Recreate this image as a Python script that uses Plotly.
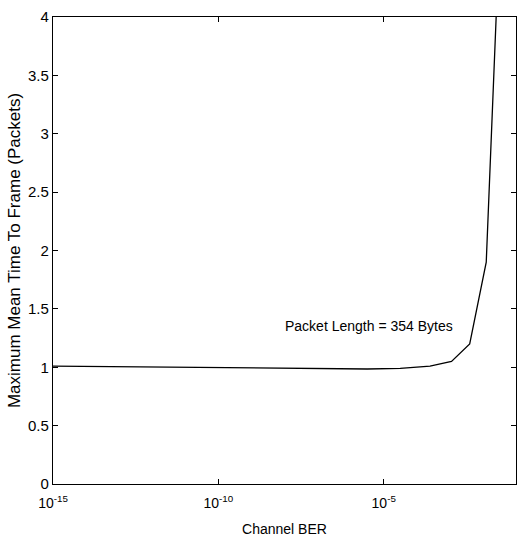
import numpy as np
import plotly.graph_objects as go

# Data (x as log10 of channel BER)
ber_log10 = [-15, -13, -11, -9, -7, -5.5, -4.5, -3.6, -2.95, -2.4, -1.9, -1.6]
mean_time = [1.01, 1.005, 1.0, 0.995, 0.99, 0.985, 0.99, 1.01, 1.05, 1.2, 1.9, 4.0]
ber = [10 ** v for v in ber_log10]

x_tickvals = [1e-15, 1e-10, 1e-5]
x_ticktext = ["10<sup>-15</sup>", "10<sup>-10</sup>", "10<sup>-5</sup>"]
y_tickvals = [0, 0.5, 1, 1.5, 2, 2.5, 3, 3.5, 4]
y_ticktext = ["0", "0.5", "1", "1.5", "2", "2.5", "3", "3.5", "4"]

font_family = "Liberation Sans, Arial, sans-serif"

fig = go.Figure()
fig.add_trace(go.Scatter(x=ber, y=mean_time, mode="lines",
                         line=dict(color="black", width=1.3),
                         showlegend=False, hoverinfo="skip"))

fig.add_annotation(x=-5.45, y=1.35, xref="x", yref="y",
                   text="Packet Length = 354 Bytes", showarrow=False,
                   xanchor="center", yanchor="middle",
                   font=dict(family=font_family, size=14, color="black"))

fig.update_layout(
    width=517, height=549,
    margin=dict(l=53, r=1, t=17, b=65),
    paper_bgcolor="white", plot_bgcolor="white",
    font=dict(family=font_family, size=14, color="black"),
    xaxis=dict(type="log", range=[-15, -1],
               tickvals=x_tickvals, ticktext=x_ticktext,
               ticks="inside", ticklen=5, tickcolor="black",
               ticklabelstandoff=6,
               showline=True, linecolor="black", linewidth=1.3,
               mirror="ticks", showgrid=False, zeroline=False,
               title=dict(text="Channel BER", standoff=14,
                          font=dict(size=14)),
               tickfont=dict(size=14)),
    yaxis=dict(range=[0, 4], tickvals=y_tickvals, ticktext=y_ticktext,
               ticks="inside", ticklen=5, tickcolor="black",
               showline=True, linecolor="black", linewidth=1.3,
               mirror="ticks", showgrid=False, zeroline=False,
               title=dict(text="Maximum Mean Time To Frame (Packets)",
                          standoff=3, font=dict(size=17)),
               tickfont=dict(size=15)),
)

fig.write_html("out.html")
